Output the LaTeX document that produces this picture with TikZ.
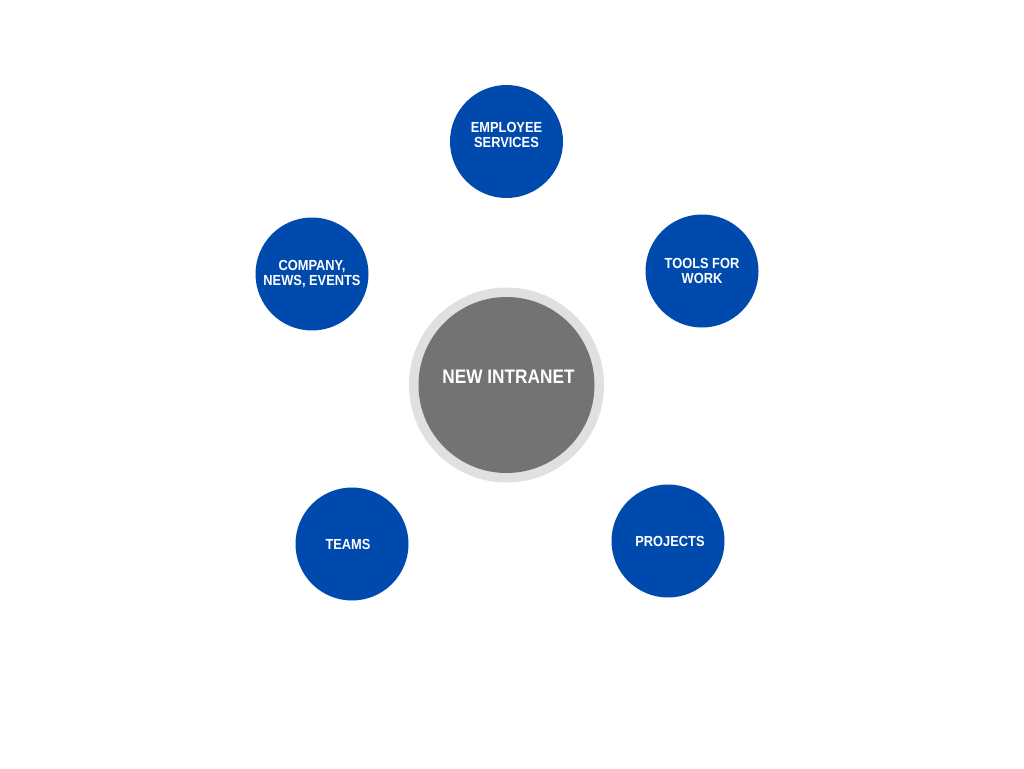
\documentclass[tikz,border=0pt]{standalone}
\usepackage{fontspec}
\setmainfont{Liberation Sans}[FakeStretch=0.88]
\definecolor{hubblue}{RGB}{0,74,173}
\definecolor{hubgray}{RGB}{115,115,115}
\definecolor{ringgray}{RGB}{224,224,226}
\tikzset{
  bub/.style={circle, fill=hubblue, minimum size=113pt, inner sep=0pt},
  lbl/.style={text=white, font=\fontsize{14.6}{15}\selectfont\bfseries, align=center},
}
\begin{document}
\begin{tikzpicture}[x=1pt, y=-1pt]
        \useasboundingbox (0,0) rectangle (1024,768);
        % hub in the middle
        \node[circle, fill=ringgray, minimum size=195pt, inner sep=0pt] (ring) at (506.5,385) {};
        \node[circle, fill=hubgray, minimum size=176pt, inner sep=0pt] (hub) at (ring.center) {};
        \node[text=white, font=\fontsize{19.6}{22}\selectfont\bfseries] (hubtxt) at ([xshift=2pt,yshift=8pt]hub.center) {NEW INTRANET};

        % the five topics
        \node[bub] (emp) at (506.5,141.5) {};
        \node[lbl] (emptxt) at ([yshift=7pt]emp.center) {EMPLOYEE\\SERVICES};

        \node[bub] (tools) at (702,271) {};
        \node[lbl] (toolstxt) at (tools.center) {TOOLS FOR\\WORK};

        \node[bub] (proj) at (668,541) {};
        \node[lbl] (projtxt) at ([xshift=2pt]proj.center) {PROJECTS};

        \node[bub] (teams) at (352,544) {};
        \node[lbl] (teamstxt) at ([xshift=-4pt]teams.center) {TEAMS};

        \node[bub] (comp) at (312,274) {};
        \node[lbl] (comptxt) at (comp.center) {COMPANY,\\NEWS, EVENTS};
    \end{tikzpicture}
\end{document}
